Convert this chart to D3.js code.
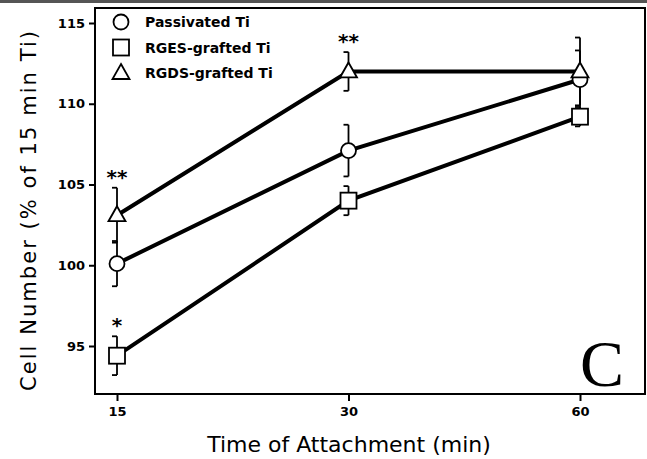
<!DOCTYPE html>
<html><head><meta charset="utf-8">
<script src="https://cdn.jsdelivr.net/npm/d3@7"></script>
<style>body{margin:0;background:#fff}svg{display:block}</style>
</head><body>
<svg id="c" width="647" height="459"></svg>
<script>
const times = ["15", "30", "60"];
const yTicks = [95, 100, 105, 110, 115];
const seriesNames = ["Passivated Ti", "RGES-grafted Ti", "RGDS-grafted Ti"];
const seriesSymbols = ["circle", "square", "triangle"];
const passivated = [100.1, 107.1, 111.5];
const passivatedErr = [1.4, 1.6, 1.8];
const rges = [94.4, 104.0, 109.2];
const rgesErr = [1.2, 0.9, 0.6];
const rgds = [103.1, 112.0, 112.0];
const rgdsErr = [1.7, 1.2, 2.1];
const signif = [
  {series: 2, t: "15", label: "**"},
  {series: 2, t: "30", label: "**"},
  {series: 1, t: "15", label: "*"}
];

const svg = d3.select("#c");
const m = {left: 95, right: 645, top: 8, bottom: 394};
const x = d3.scalePoint().domain(times).range([117, 580]);
const y = d3.scaleLinear().domain([95, 115]).range([346, 23]);

svg.append("rect").attr("x",0).attr("y",0).attr("width",647).attr("height",3).attr("fill","#555");

svg.append("rect").attr("x", m.left).attr("y", m.top).attr("width", m.right - m.left)
  .attr("height", m.bottom - m.top).attr("fill", "none").attr("stroke", "#000").attr("stroke-width", 2);

const yAxis = d3.axisLeft(y).tickValues(yTicks).tickSize(6).tickPadding(4);
const gy = svg.append("g").attr("transform", `translate(${m.left},0)`).call(yAxis);
gy.select(".domain").remove();
gy.selectAll("line").attr("stroke-width", 2);
gy.selectAll("text").attr("font-family", "DejaVu Sans").attr("font-weight", "bold").attr("font-size", 13);

const xAxis = d3.axisBottom(x).tickSize(7).tickPadding(6);
const gx = svg.append("g").attr("transform", `translate(0,${m.bottom})`).call(xAxis);
gx.select(".domain").remove();
gx.selectAll("line").attr("stroke-width", 2);
gx.selectAll("text").attr("font-family", "DejaVu Sans").attr("font-weight", "bold").attr("font-size", 13);

svg.append("text").attr("x", 349).attr("y", 452).attr("text-anchor", "middle")
  .attr("font-family", "DejaVu Sans").attr("font-size", 22).text("Time of Attachment (min)");
svg.append("text").attr("transform", "translate(36,211) rotate(-90)").attr("text-anchor", "middle")
  .attr("font-family", "DejaVu Sans").attr("font-size", 21)
  .attr("textLength", 360).attr("lengthAdjust", "spacing").text("Cell Number (% of 15 min Ti)");

const series = [
  {name: seriesNames[0], sym: seriesSymbols[0], v: passivated, e: passivatedErr},
  {name: seriesNames[1], sym: seriesSymbols[1], v: rges, e: rgesErr},
  {name: seriesNames[2], sym: seriesSymbols[2], v: rgds, e: rgdsErr}
];

const line = d3.line().x((d, i) => x(times[i])).y(d => y(d));
series.forEach(s => {
  svg.append("path").attr("d", line(s.v)).attr("fill", "none").attr("stroke", "#000").attr("stroke-width", 4);
});

function drawSym(g, sym, cx, cy) {
  if (sym === "circle") {
    g.append("circle").attr("cx", cx).attr("cy", cy).attr("r", 7.5).attr("fill", "#fff").attr("stroke", "#000").attr("stroke-width", 1.8);
  } else if (sym === "square") {
    g.append("rect").attr("x", cx - 8).attr("y", cy - 8).attr("width", 16).attr("height", 16).attr("fill", "#fff").attr("stroke", "#000").attr("stroke-width", 1.8);
  } else {
    g.append("path").attr("d", `M${cx},${cy-9}L${cx+8.5},${cy+6}L${cx-8.5},${cy+6}Z`).attr("fill", "#fff").attr("stroke", "#000").attr("stroke-width", 1.8);
  }
}

series.forEach(s => {
  s.v.forEach((v, i) => {
    const cx = x(times[i]);
    const g = svg.append("g").attr("stroke", "#000").attr("stroke-width", 1.8);
    g.append("line").attr("x1", cx).attr("x2", cx).attr("y1", y(v + s.e[i])).attr("y2", y(v - s.e[i]));
    g.append("line").attr("x1", cx - 5).attr("x2", cx).attr("y1", y(v + s.e[i])).attr("y2", y(v + s.e[i]));
    g.append("line").attr("x1", cx - 5).attr("x2", cx).attr("y1", y(v - s.e[i])).attr("y2", y(v - s.e[i]));
  });
});

series.forEach(s => {
  s.v.forEach((v, i) => drawSym(svg, s.sym, x(times[i]), y(v)));
});

signif.forEach(d => {
  const s = series[d.series];
  const i = times.indexOf(d.t);
  svg.append("text").attr("x", x(d.t)).attr("y", y(s.v[i] + s.e[i]) - 4).attr("text-anchor", "middle")
    .attr("font-family", "DejaVu Sans").attr("font-weight", "bold").attr("font-size", 20).text(d.label);
});

series.forEach((s, i) => {
  const ly = 22 + i * 25.5;
  drawSym(svg, s.sym, 121, ly);
  svg.append("text").attr("x", 145).attr("y", ly + 5).attr("font-family", "DejaVu Sans").attr("font-weight", "bold")
    .attr("font-size", 14).text(s.name);
});

svg.append("text").attr("x", 602).attr("y", 386).attr("text-anchor", "middle")
  .attr("font-family", "Liberation Serif").attr("font-size", 66).text("C");
</script>
</body></html>
